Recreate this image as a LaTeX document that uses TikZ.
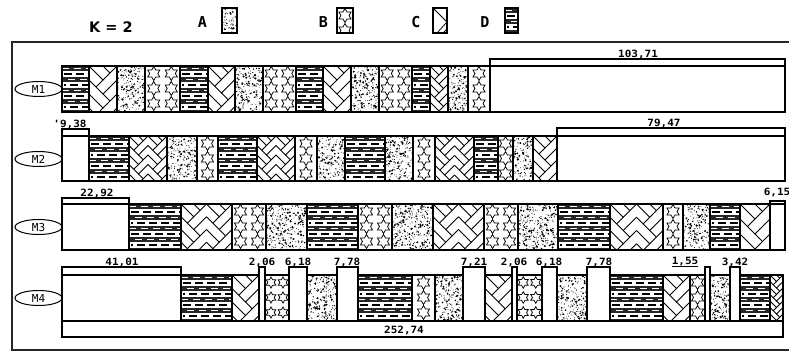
\documentclass[tikz,border=0pt]{standalone}
\usepackage{fontspec}
\usetikzlibrary{shapes.geometric}
\newfontfamily\numfont[FakeStretch=1.1]{DejaVu Sans Mono}
\newfontfamily\lblfont{DejaVu Sans}
\newfontfamily\monofnt{DejaVu Sans Mono}
\tikzset{
 blk/.style={draw=black,line width=1.1pt},
 pat/.style={line width=0.75pt},
 num/.style={font=\numfont\bfseries\fontsize{10}{10}\selectfont,inner sep=0pt,anchor=base},
 legl/.style={font=\monofnt\bfseries\fontsize{15}{15}\selectfont,inner sep=0pt},
 mlabel/.style={draw,ellipse,line width=1pt,minimum width=47pt,minimum height=15pt,inner sep=0pt,font=\monofnt\fontsize{11}{11}\selectfont},
}
% A: stippled dots
\newcommand\patA[4]{%
 \begin{scope}
 \clip (#1,#2) rectangle (#3,#4);
 \pgfmathtruncatemacro\nd{(#3-#1)*(#4-#2)/6}
 \foreach \i in {1,...,\nd}{
   \pgfmathsetmacro\px{#1+rnd*(#3-#1)}
   \pgfmathsetmacro\py{#2+rnd*(#4-#2)}
   \pgfmathsetmacro\pr{0.4+0.8*rnd^3}
   \fill (\px,\py) circle[radius=\pr pt];
 }
 \end{scope}
 \draw[blk] (#1,#2) rectangle (#3,#4)}
% six-pointed star outline
\newcommand\hstar[3]{%
 \pgfmathsetmacro\ri{#3/1.732}%
 \draw[pat] (#1,#2) +(90:#3 pt) -- +(120:\ri pt) -- +(150:#3 pt) -- +(180:\ri pt)
   -- +(210:#3 pt) -- +(240:\ri pt) -- +(270:#3 pt) -- +(300:\ri pt)
   -- +(330:#3 pt) -- +(0:\ri pt) -- +(30:#3 pt) -- +(60:\ri pt) -- cycle;}
% B: stars
\newcommand\patB[4]{%
 \begin{scope}
 \clip (#1,#2) rectangle (#3,#4);
 \pgfmathtruncatemacro\nc{max(1,round((#3-#1)/16))}
 \pgfmathsetmacro\bdx{(#3-#1)/\nc}
 \pgfmathsetmacro\sr{min(7,0.46*\bdx)}
 \foreach \i in {1,...,\nc}{
   \foreach \j in {0,...,3}{
     \pgfmathsetmacro\bcx{#1+(\i-0.5)*\bdx}
     \pgfmathsetmacro\bcy{#2+7.5+\j*15}
     \hstar{\bcx}{\bcy}{\sr}
   }}
 \end{scope}
 \draw[blk] (#1,#2) rectangle (#3,#4)}
% C: herringbone
\newcommand\patC[4]{%
 \begin{scope}
 \clip (#1,#2) rectangle (#3,#4);
 \pgfmathtruncatemacro\nc{max(1,round((#3-#1)/24))}
 \pgfmathsetmacro\ca{(#3-#1)/(2*\nc)}
 \pgfmathtruncatemacro\nk{ceil((#4-#2)/\ca)+1}
 \foreach \i in {1,...,\nc}{
  \foreach \k in {-2,...,\nk}{
   \pgfmathsetmacro\cxc{#1+(2*\i-1)*\ca}
   \pgfmathsetmacro\cyk{#2+\k*\ca}
   \pgfmathsetmacro\cyb{\cyk+\ca}
   \pgfmathsetmacro\cye{\cyk+1.5*\ca}
   \pgfmathtruncatemacro\cpp{mod(\k+10,2)}
   \pgfmathsetmacro\cxe{\cxc+(2*\cpp-1)*0.5*\ca}
   \draw[pat] (\cxc-\ca,\cyk) -- (\cxc,\cyb) -- (\cxc+\ca,\cyk);
   \draw[pat] (\cxc,\cyb) -- (\cxe,\cye);
  }}
 \end{scope}
 \draw[blk] (#1,#2) rectangle (#3,#4)}
% D: stripes
\newcommand\patD[4]{%
 \begin{scope}
 \clip (#1,#2) rectangle (#3,#4);
 \pgfmathtruncatemacro\nd{ceil((#4-#2)/11)}
 \foreach \j in {0,...,\nd}{
   \pgfmathsetmacro\ya{#2+\j*11}
   \pgfmathsetmacro\ph{mod(\j,2)*6}
   \fill[black!85] (#1,\ya) rectangle (#3,\ya+4.8);
   \draw[white,line width=0.9pt,dash pattern=on 7pt off 5pt,dash phase=\ph pt] (#1,\ya+2.4) -- (#3,\ya+2.4);
   \draw[line width=1.2pt,dash pattern=on 8pt off 4pt,dash phase=\ph pt] (#1+2,\ya+8) -- (#3,\ya+8);
 }
 \end{scope}
 \draw[blk] (#1,#2) rectangle (#3,#4)}
% E: narrow empty block (raised top)
\newcommand\patE[4]{\draw[blk] (#1,{#2-8}) rectangle (#3,#4)}
% empty block with band
\newcommand\emptyblk[5]{%
 \draw[blk] (#1,#3) rectangle (#2,#5);
 \draw[blk] (#1,#4) -- (#2,#4)}
\begin{document}
\begin{tikzpicture}[x=1pt,y=-1pt]
\useasboundingbox (0,0) rectangle (789,352);
\clip (0,0) rectangle (789,352);
\pgfmathsetseed{11}
% legend
\node[font=\lblfont\bfseries\fontsize{14.5}{15}\selectfont,inner sep=0pt] (k) at (111,27.5) {K = 2};
\node[legl] (la) at (202.5,22) {A};
\patA{222}{8}{237}{33};
\node[legl] (lb) at (323.5,22) {B};
\patB{337}{8}{353}{33};
\node[legl] (lc) at (416,22) {C};
\draw[blk] (433,8) rectangle (447,33);
\draw[pat] (434,9) -- (447,22) -- (437,33);
\draw[pat] (443,33) -- (447,29);
\node[legl] (ld) at (485,22) {D};
\patD{505}{8}{518}{33};
% frame
\draw[line width=1.1pt,black!85] (12,42) rectangle (800,350);
% M1
\node[mlabel] (m1) at (38.5,89) {M1};
\foreach \bt/\bxa/\bxb in {D/62/89,C/89/117,A/117/145,B/145/180,D/180/208,C/208/235,A/235/263,B/263/296,D/296/323,C/323/351,A/351/379,B/379/412,D/412/430,C/430/448,A/448/468,B/468/490}
 {\csname pat\bt\endcsname{\bxa}{66}{\bxb}{112};}
\emptyblk{490}{785}{59}{66}{112};
\node[num] (t1) at (638,57.5) {103,71};
% M2
\node[mlabel] (m2) at (38.5,159) {M2};
\emptyblk{62}{89}{129}{136}{181};
\foreach \bt/\bxa/\bxb in {D/89/129,C/129/167,A/167/197,B/197/218,D/218/257,C/257/295,B/295/317,A/317/345,D/345/385,A/385/413,B/413/435,C/435/474,D/474/498,B/498/513,A/513/533,C/533/557}
 {\csname pat\bt\endcsname{\bxa}{136}{\bxb}{181};}
\emptyblk{557}{785}{128}{136}{181};
\node[num] (t2) at (70,127.5) {'9,38};
\node[num] (t3) at (664,126.5) {79,47};
% M3
\node[mlabel] (m3) at (38.5,227) {M3};
\emptyblk{62}{129}{198}{204}{250};
\foreach \bt/\bxa/\bxb in {D/129/181,C/181/232,B/232/266,A/266/307,D/307/358,B/358/392,A/392/433,C/433/484,B/484/518,A/518/558,D/558/610,C/610/663,B/663/683,A/683/710,D/710/740,C/740/770}
 {\csname pat\bt\endcsname{\bxa}{204}{\bxb}{250};}
\emptyblk{770}{785}{201}{204}{250};
\node[num] (t4) at (97,196.5) {22,92};
\node[num] (t5) at (777,195.5) {6,15};
% M4
\node[mlabel] (m4) at (38.5,298) {M4};
\emptyblk{62}{181}{267}{275}{321};
\foreach \bt/\bxa/\bxb in {D/181/232,C/232/259,E/259/265,B/265/289,E/289/307,A/307/337,E/337/358,D/358/412,B/412/435,A/435/463,E/463/485,C/485/512,E/512/517,B/517/542,E/542/557,A/557/587,E/587/610,D/610/663,C/663/690,B/690/705,E/705/710,A/710/730,E/730/740,D/740/770,C/770/783}
 {\csname pat\bt\endcsname{\bxa}{275}{\bxb}{321};}
\draw[blk] (62,321) rectangle (783,337);
\node[num] (t6) at (122,265.5) {41,01};
\node[num] (t7) at (262,265.5) {2,06};
\node[num] (t8) at (298,265.5) {6,18};
\node[num] (t9) at (347,265.5) {7,78};
\node[num] (t10) at (474,265.5) {7,21};
\node[num] (t11) at (514,265.5) {2,06};
\node[num] (t12) at (549,265.5) {6,18};
\node[num] (t13) at (599,265.5) {7,78};
\node[num] (t14) at (685,264.5) {1,55};
\draw[blk] (672,266.5) -- (698,266.5);
\node[num] (t15) at (735,265.5) {3,42};
\node[num] (t16) at (404,333) {252,74};
\end{tikzpicture}
\end{document}
